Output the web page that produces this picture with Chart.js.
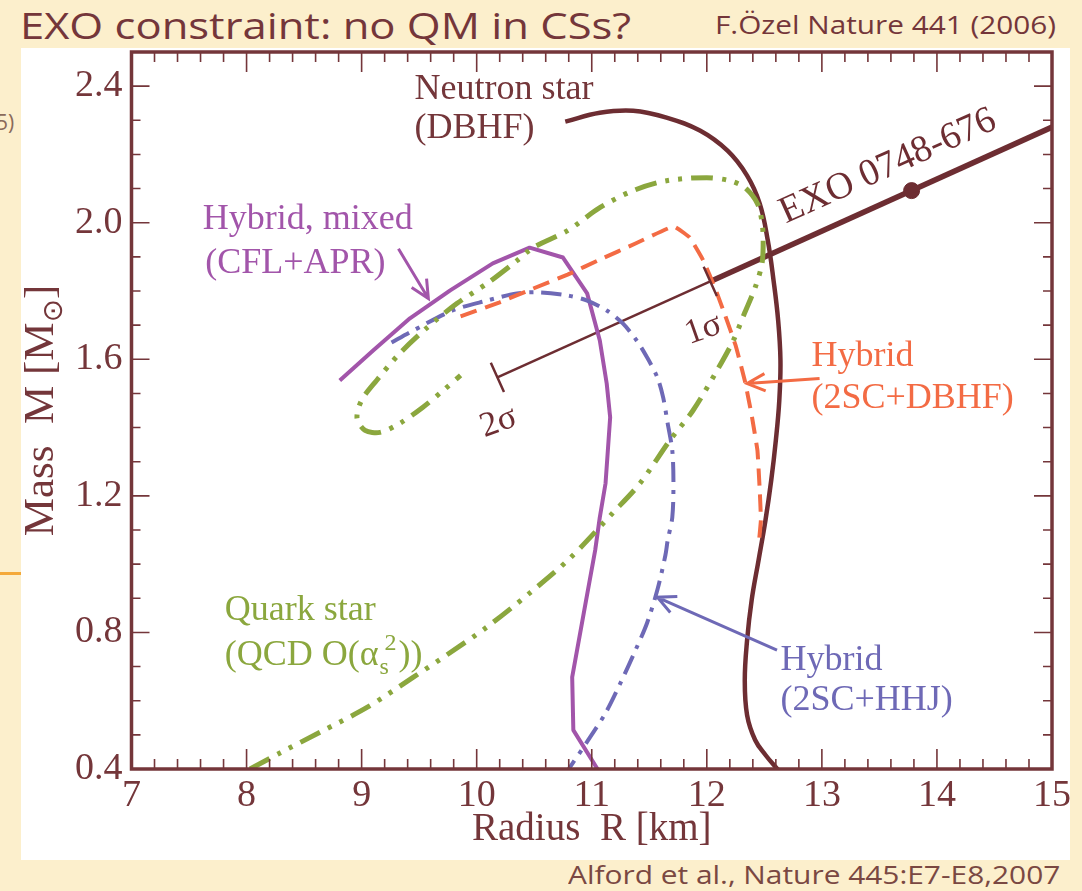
<!DOCTYPE html>
<html>
<head>
<meta charset="utf-8">
<title>EXO constraint: no QM in CSs?</title>
<script src="https://cdn.jsdelivr.net/npm/chart.js@4.4.0/dist/chart.umd.min.js"></script>
<style>
  html, body { margin: 0; padding: 0; width: 1082px; height: 891px; overflow: hidden; background: #fcefcc; }
  #sheet { position: absolute; left: 21px; top: 48px; width: 1049px; height: 812px; background: #fff; }
  .slide { position: absolute; white-space: nowrap; font-family: 'Open Sans', sans-serif; color: #74363a; transform-origin: 0 0; }
  #title { left: 20px; top: 8px; font-size: 36px; line-height: 36px; transform: scaleX(1.21); }
  #cite1 { left: 715px; top: 11px; font-size: 26px; line-height: 26px; transform: scaleX(1.145); }
  #cite2 { left: 568px; top: 862px; font-size: 25px; line-height: 25px; color: #7a4842; transform: scaleX(1.195); }
  #edge { left: -4px; top: 112px; font-size: 21px; line-height: 21px; color: #8a6a5a; }
  #edgeLine { position: absolute; left: 0; top: 572px; width: 21px; height: 3px; background: #f4a93a; }
  #chart { position: absolute; left: 0; top: 0; }
</style>
</head>
<body>
<div id="sheet"></div>
<div id="edgeLine"></div>
<div id="title" class="slide">EXO constraint: no QM in CSs?</div>
<div id="cite1" class="slide">F.Özel Nature 441 (2006)</div>
<div id="cite2" class="slide">Alford et al., Nature 445:E7-E8,2007</div>
<div id="edge" class="slide">5)</div>
<canvas id="chart" width="1082" height="891"></canvas>
<script>
// axis ticks
const xTicks = [7, 8, 9, 10, 11, 12, 13, 14, 15];
const yTicks = [0.4, 0.8, 1.2, 1.6, 2.0, 2.4];

// Neutron star (DBHF)
const neutronR = [10.77, 11.07, 11.36, 11.65, 11.94, 12.18, 12.35, 12.46, 12.53, 12.58, 12.62, 12.64, 12.63, 12.60, 12.56, 12.51, 12.45, 12.39, 12.35, 12.33, 12.35, 12.42, 12.51, 12.62];
const neutronM = [2.296, 2.322, 2.328, 2.308, 2.270, 2.211, 2.138, 2.056, 1.948, 1.831, 1.714, 1.597, 1.480, 1.363, 1.246, 1.129, 1.012, 0.895, 0.777, 0.660, 0.558, 0.485, 0.441, 0.397];

// Hybrid, mixed (CFL+APR)
const mixedR = [8.81, 9.10, 9.42, 9.77, 10.14, 10.46, 10.75, 10.96, 11.07, 11.13, 11.16, 11.14, 11.12, 11.07, 11.03, 10.94, 10.83, 10.84, 11.05];
const mixedM = [1.538, 1.626, 1.720, 1.802, 1.881, 1.927, 1.898, 1.793, 1.655, 1.529, 1.430, 1.333, 1.237, 1.137, 1.041, 0.874, 0.669, 0.514, 0.400];

// Hybrid (2SC+HHJ)
const hhjR = [9.26, 9.42, 9.79, 10.09, 10.35, 10.55, 10.79, 10.96, 11.13, 11.27, 11.39, 11.48, 11.57, 11.62, 11.66, 11.70, 11.71, 11.70, 11.66, 11.64, 11.57, 11.48, 11.38, 11.25, 11.12, 10.97, 10.80];
const hhjM = [1.649, 1.679, 1.743, 1.772, 1.793, 1.796, 1.787, 1.772, 1.743, 1.705, 1.655, 1.606, 1.547, 1.489, 1.412, 1.333, 1.237, 1.137, 1.070, 1.026, 0.924, 0.827, 0.748, 0.652, 0.564, 0.485, 0.400];

// Hybrid (2SC+DBHF)
const dbhfR = [9.86, 10.20, 10.49, 10.79, 11.07, 11.38, 11.71, 11.85, 11.97, 12.07, 12.16, 12.25, 12.33, 12.39, 12.44, 12.46, 12.47, 12.45];
const dbhfM = [1.726, 1.767, 1.807, 1.848, 1.892, 1.939, 1.989, 1.957, 1.889, 1.810, 1.728, 1.641, 1.538, 1.436, 1.333, 1.216, 1.129, 1.055];

// Quark star (QCD O(as^2))
const qcdR = [8.03, 8.29, 8.64, 9.05, 9.45, 9.74, 10.09, 10.46, 10.81, 11.18, 11.42, 11.68, 11.88, 12.09, 12.23, 12.33, 12.42, 12.48, 12.49, 12.48, 12.44, 12.33, 12.20, 12.00, 11.65, 11.36, 11.07, 10.79, 10.49, 10.35, 10.09, 9.83, 9.57, 9.33, 9.13, 9.00, 8.96, 9.03, 9.16, 9.33, 9.53, 9.71, 9.86];
const qcdM = [0.400, 0.447, 0.508, 0.581, 0.669, 0.734, 0.816, 0.915, 1.017, 1.149, 1.237, 1.363, 1.450, 1.568, 1.655, 1.737, 1.810, 1.881, 1.948, 2.001, 2.056, 2.103, 2.123, 2.132, 2.123, 2.094, 2.044, 1.977, 1.927, 1.889, 1.822, 1.764, 1.693, 1.617, 1.538, 1.480, 1.427, 1.392, 1.386, 1.412, 1.459, 1.509, 1.553];

// EXO 0748-676 constraint: 2 sigma .. 1 sigma, then 1 sigma band, best fit point
const exoSigmaR = [10.18, 12.03];
const exoSigmaM = [1.547, 1.828];
const exoBandR = [12.03, 15.0];
const exoBandM = [1.828, 2.280];
const exoBestR = [13.78];
const exoBestM = [2.094];

const maroon = '#74363a';
const nsColor = '#6d2d32';
const purple = '#a255aa';
const blue = '#6e69b6';
const orange = '#f36b44';
const green = '#8ba73e';
const serif = "'Liberation Serif', 'Times New Roman', serif";

function pts(rs, ms) {
    return rs.map((r, i) => ({ x: r, y: ms[i] }));
}

function curve(rs, ms, color, width, dash, tension) {
    return {
        data: pts(rs, ms),
        showLine: true,
        borderColor: color,
        backgroundColor: color,
        borderWidth: width,
        borderDash: dash,
        borderCapStyle: 'butt',
        borderJoinStyle: 'round',
        pointRadius: 0,
        tension: tension,
        fill: false
    };
}

// text labels, in data units (left / baseline)
const labels = [
    { text: 'Neutron star', r: 9.46, m: 2.363, color: maroon },
    { text: '(DBHF)', r: 9.46, m: 2.249, color: maroon },
    { text: 'Hybrid, mixed', r: 7.62, m: 1.983, color: purple },
    { text: '(CFL+APR)', r: 7.64, m: 1.854, color: purple },
    { text: 'Hybrid', r: 12.91, m: 1.579, color: orange },
    { text: '(2SC+DBHF)', r: 12.91, m: 1.456, color: orange },
    { text: 'Quark star', r: 7.81, m: 0.836, color: green },
    { text: 'Hybrid', r: 12.64, m: 0.690, color: blue },
    { text: '(2SC+HHJ)', r: 12.64, m: 0.573, color: blue }
];

const arrows = [
    { from: [9.32, 1.924], to: [9.58, 1.778], color: purple },
    { from: [12.98, 1.544], to: [12.35, 1.529], color: orange },
    { from: [12.61, 0.748], to: [11.57, 0.903], color: blue }
];

const decor = {
    id: 'decor',
    afterDatasetsDraw(chart) {
        const { ctx, chartArea: a, scales: { x, y } } = chart;
        ctx.save();

        // frame
        ctx.strokeStyle = maroon;
        ctx.lineWidth = 3.5;
        ctx.strokeRect(a.left, a.top, a.right - a.left, a.bottom - a.top);

        // inward ticks on all four sides
        ctx.lineWidth = 1.6;
        ctx.beginPath();
        for (let k = 1; k < 40; k++) {
            const px = x.getPixelForValue(7 + k * 0.2);
            const len = k % 5 === 0 ? 20 : 10;
            ctx.moveTo(px, a.bottom); ctx.lineTo(px, a.bottom - len);
            ctx.moveTo(px, a.top); ctx.lineTo(px, a.top + len);
        }
        for (let k = 1; k < 21; k++) {
            const py = y.getPixelForValue(0.4 + k * 0.1);
            const len = k % 4 === 0 ? 18 : 9;
            ctx.moveTo(a.left, py); ctx.lineTo(a.left + len, py);
            ctx.moveTo(a.right, py); ctx.lineTo(a.right - len, py);
        }
        ctx.stroke();

        // error bar ends at 1 and 2 sigma
        const p1 = [x.getPixelForValue(exoSigmaR[0]), y.getPixelForValue(exoSigmaM[0])];
        const p2 = [x.getPixelForValue(exoBandR[1]), y.getPixelForValue(exoBandM[1])];
        const ang = Math.atan2(p2[1] - p1[1], p2[0] - p1[0]);
        const nx = -Math.sin(ang), ny = Math.cos(ang);
        ctx.strokeStyle = nsColor;
        ctx.lineWidth = 2.5;
        ctx.beginPath();
        [[exoSigmaR[0], exoSigmaM[0]], [exoSigmaR[1], exoSigmaM[1]]].forEach(([r, m]) => {
            const cx = x.getPixelForValue(r), cy = y.getPixelForValue(m);
            ctx.moveTo(cx - nx * 16, cy - ny * 16);
            ctx.lineTo(cx + nx * 16, cy + ny * 16);
        });
        ctx.stroke();

        // arrows
        arrows.forEach(ar => {
            const fx = x.getPixelForValue(ar.from[0]), fy = y.getPixelForValue(ar.from[1]);
            const tx = x.getPixelForValue(ar.to[0]), ty = y.getPixelForValue(ar.to[1]);
            const t = Math.atan2(ty - fy, tx - fx);
            ctx.strokeStyle = ar.color;
            ctx.lineWidth = 3;
            ctx.beginPath();
            ctx.moveTo(fx, fy); ctx.lineTo(tx, ty);
            ctx.moveTo(tx - 20 * Math.cos(t - 0.45), ty - 20 * Math.sin(t - 0.45));
            ctx.lineTo(tx, ty);
            ctx.lineTo(tx - 20 * Math.cos(t + 0.45), ty - 20 * Math.sin(t + 0.45));
            ctx.stroke();
        });

        // labels
        ctx.textBaseline = 'alphabetic';
        ctx.textAlign = 'left';
        ctx.font = '36px ' + serif;
        labels.forEach(l => {
            ctx.fillStyle = l.color;
            ctx.fillText(l.text, x.getPixelForValue(l.r), y.getPixelForValue(l.m));
        });

        // (QCD O(alpha_s^2)) with sub/superscript
        let qx = x.getPixelForValue(7.81);
        const qy = y.getPixelForValue(0.704);
        ctx.fillStyle = green;
        ctx.fillText('(QCD O(\u03b1', qx, qy);
        qx += ctx.measureText('(QCD O(\u03b1').width;
        ctx.font = '24px ' + serif;
        ctx.fillText('s', qx + 1, qy + 9);
        ctx.fillText('2', qx + 6, qy - 15);
        qx += 20;
        ctx.font = '36px ' + serif;
        ctx.fillText('))', qx, qy);

        // EXO label and sigma labels, rotated along the constraint line
        ctx.fillStyle = nsColor;
        ctx.textAlign = 'center';
        ctx.save();
        ctx.translate(x.getPixelForValue(13.61), y.getPixelForValue(2.138));
        ctx.rotate(ang);
        ctx.font = '38px ' + serif;
        ctx.fillText('EXO 0748-676', 0, 0);
        ctx.restore();

        ctx.textBaseline = 'middle';
        ctx.font = '35px ' + serif;
        [['1\u03c3', 11.97, 1.687], ['2\u03c3', 10.19, 1.415]].forEach(([s, r, m]) => {
            ctx.save();
            ctx.translate(x.getPixelForValue(r), y.getPixelForValue(m));
            ctx.rotate(ang * 0.8);
            ctx.fillText(s, 0, 0);
            ctx.restore();
        });

        // axis titles
        ctx.fillStyle = maroon;
        ctx.textBaseline = 'alphabetic';
        ctx.font = '39px ' + serif;
        ctx.fillText('Radius  R [km]', (a.left + a.right) / 2, a.bottom + 71);

        ctx.save();
        ctx.translate(53, (a.top + a.bottom) / 2);
        ctx.rotate(-Math.PI / 2);
        ctx.textAlign = 'left';
        ctx.font = '43px ' + serif;
        const main = 'Mass  M [M';
        const wMain = ctx.measureText(main).width;
        ctx.font = "28px 'DejaVu Sans', sans-serif";
        const wSun = ctx.measureText('\u2299').width;
        ctx.font = '43px ' + serif;
        const wEnd = ctx.measureText(']').width;
        let sx = -(wMain + wSun + wEnd) / 2;
        ctx.fillText(main, sx, 0);
        sx += wMain;
        ctx.font = "28px 'DejaVu Sans', sans-serif";
        ctx.fillText('\u2299', sx, 9);
        sx += wSun;
        ctx.font = '43px ' + serif;
        ctx.fillText(']', sx, 0);
        ctx.restore();

        ctx.restore();
    }
};

new Chart(document.getElementById('chart'), {
    type: 'scatter',
    data: {
        datasets: [
            curve(qcdR, qcdM, green, 5, [22, 9, 4, 9, 4, 9], 0.3),
            curve(dbhfR, dbhfM, orange, 4, [17, 9], 0.1),
            curve(hhjR, hhjM, blue, 4, [20, 8, 4, 8], 0.3),
            curve(mixedR, mixedM, purple, 4, [], 0),
            curve(neutronR, neutronM, nsColor, 4.5, [], 0.4),
            curve(exoSigmaR, exoSigmaM, nsColor, 2.5, [], 0),
            curve(exoBandR, exoBandM, nsColor, 5.5, [], 0),
            {
                data: pts(exoBestR, exoBestM),
                pointRadius: 8,
                pointBackgroundColor: nsColor,
                pointBorderColor: nsColor,
                showLine: false
            }
        ]
    },
    options: {
        responsive: false,
        animation: false,
        layout: { padding: { left: 0, top: 52, right: 30, bottom: 0 } },
        plugins: { legend: { display: false }, tooltip: { enabled: false } },
        scales: {
            x: {
                type: 'linear',
                min: 7,
                max: 15,
                afterBuildTicks: s => { s.ticks = xTicks.map(v => ({ value: v })); },
                afterFit: s => { s.height = 122; },
                grid: { display: false, drawTicks: false },
                border: { display: false },
                ticks: { color: maroon, padding: 4, font: { family: serif, size: 38 }, callback: v => String(v) }
            },
            y: {
                type: 'linear',
                min: 0.4,
                max: 2.5,
                afterBuildTicks: s => { s.ticks = yTicks.map(v => ({ value: v })); },
                afterFit: s => { s.width = 131.5; },
                grid: { display: false, drawTicks: false },
                border: { display: false },
                ticks: { color: maroon, padding: 9, font: { family: serif, size: 38 }, callback: v => v.toFixed(1) }
            }
        }
    },
    plugins: [decor]
});
</script>
</body>
</html>
